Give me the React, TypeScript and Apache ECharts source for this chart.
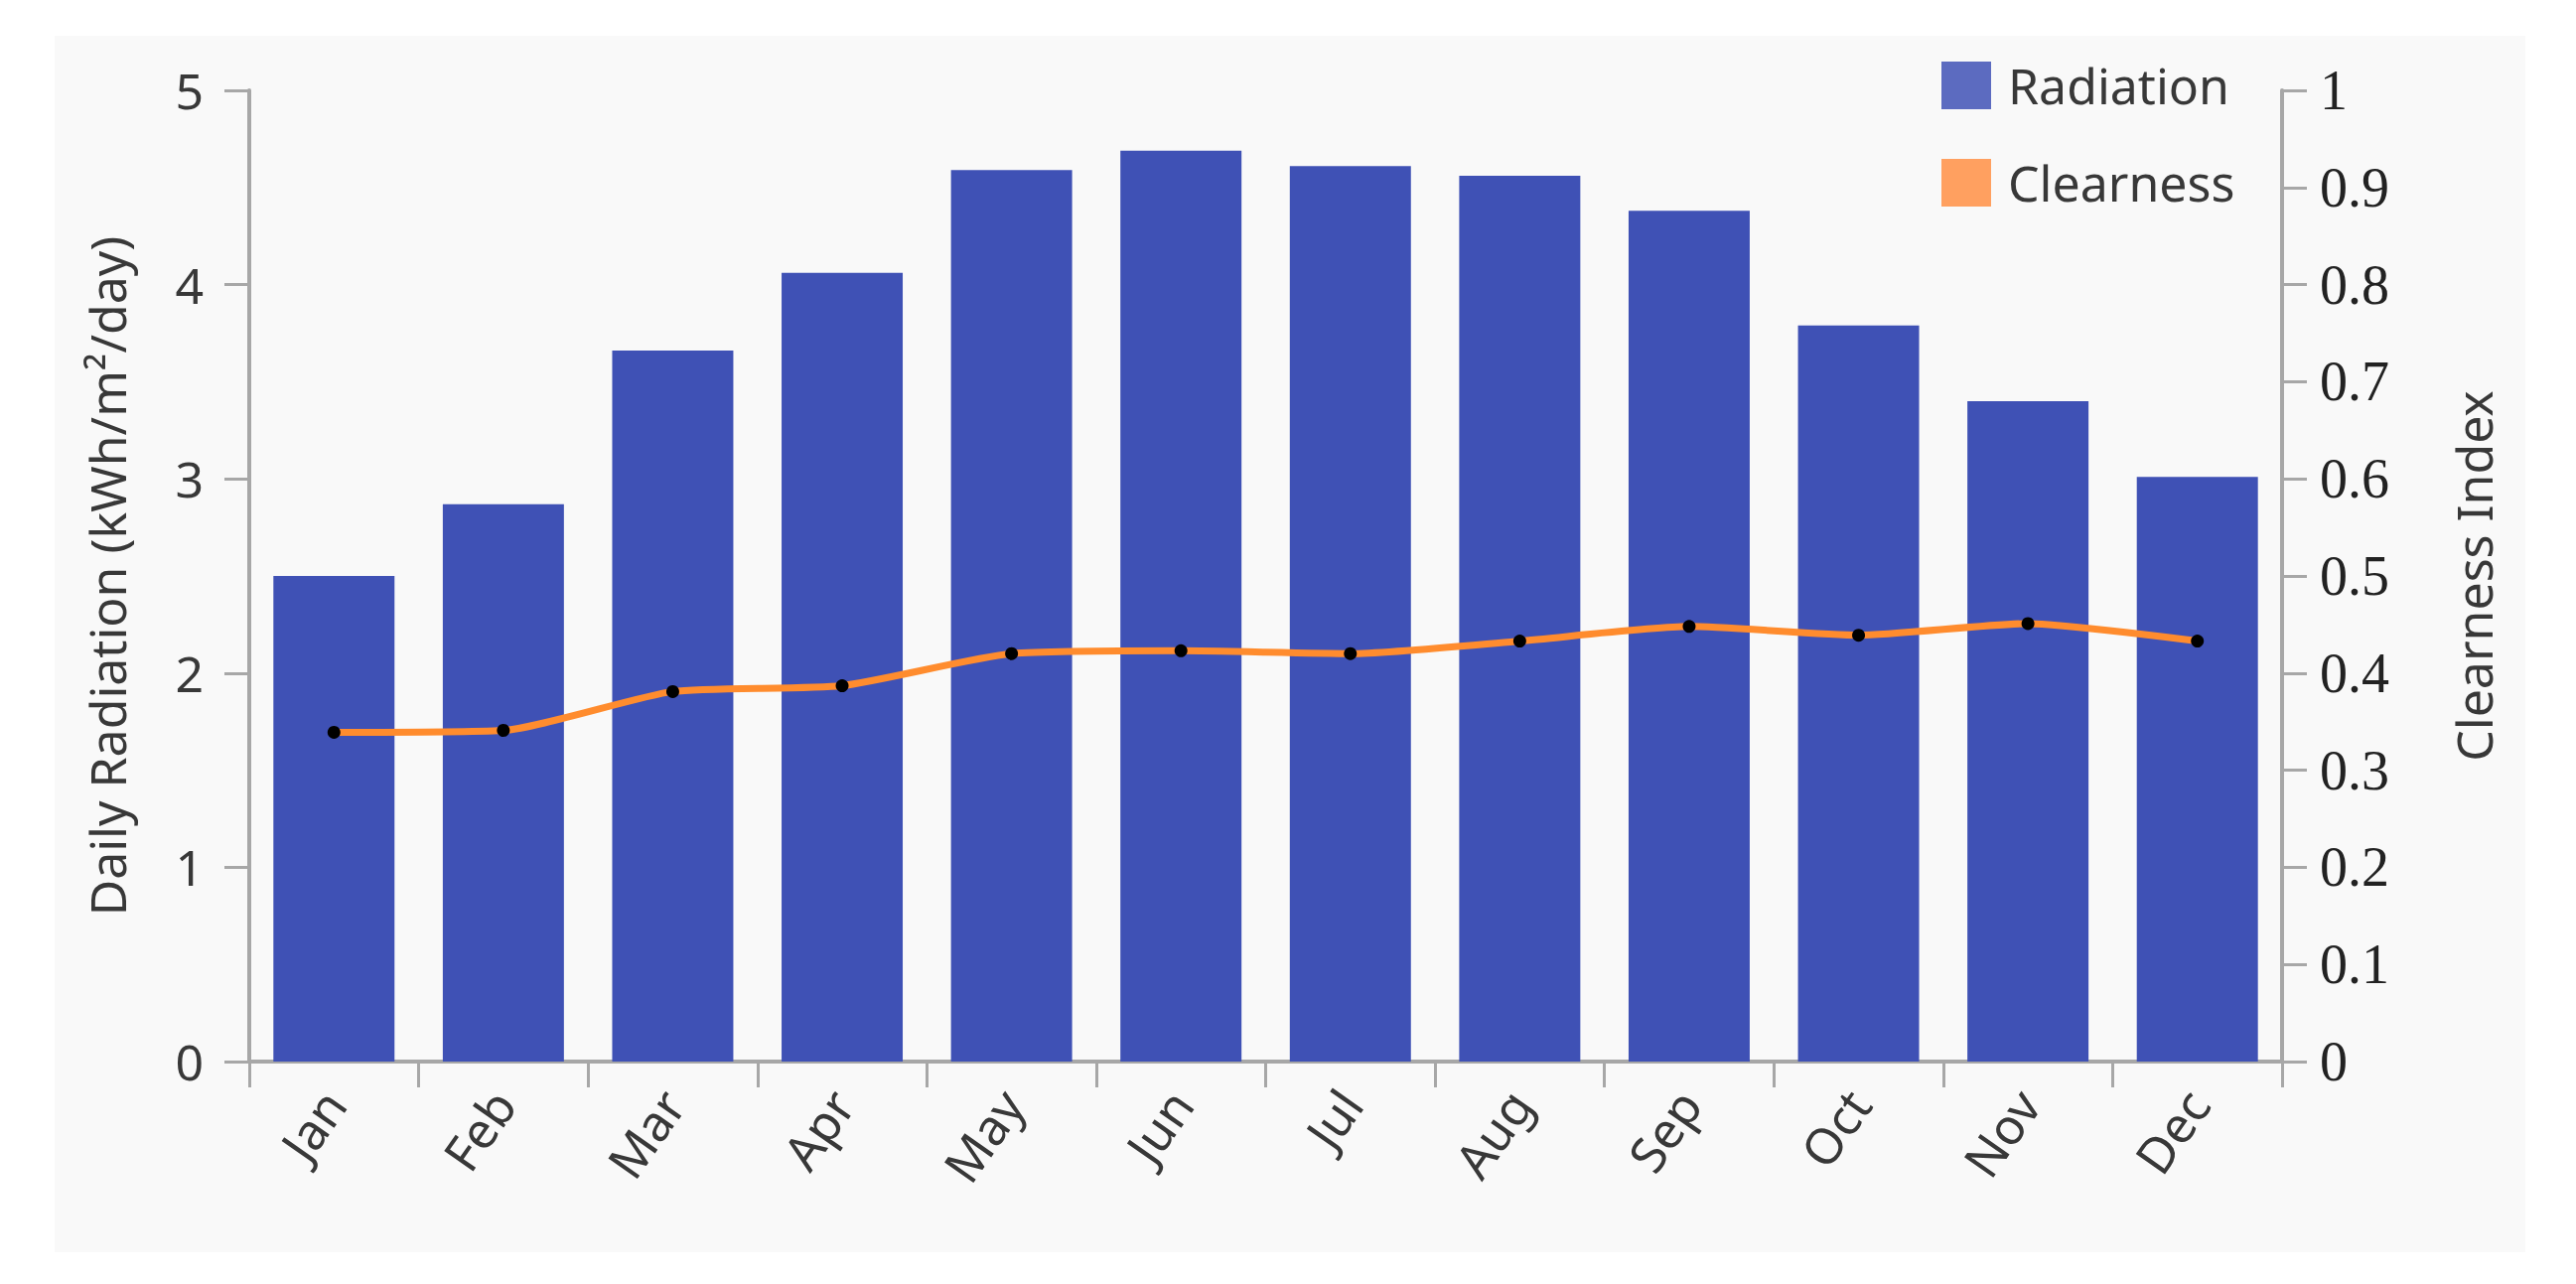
import React, { useEffect, useRef } from "react";
import * as echarts from "echarts";

const categories = ["Jan", "Feb", "Mar", "Apr", "May", "Jun", "Jul", "Aug", "Sep", "Oct", "Nov", "Dec"];
const radiation = [2.5, 2.87, 3.66, 4.06, 4.59, 4.69, 4.61, 4.56, 4.38, 3.79, 3.4, 3.01];
const clearness = [0.339, 0.341, 0.381, 0.387, 0.42, 0.423, 0.42, 0.433, 0.448, 0.439, 0.451, 0.433];
const seriesNames = ["Radiation", "Clearness"];
const axisNames = ["Daily Radiation (kWh/m\u00b2/day)", "Clearness Index"];

const AXIS_GRAY = "#a7a7a7";
const TEXT = "#383838";
const SANS = "'Noto Sans', 'Open Sans', sans-serif";
const NARROW = "'Liberation Sans Narrow', 'Noto Sans', sans-serif";
const SERIF = "'Liberation Serif', 'DejaVu Serif', serif";

export default function App() {
  const ref = useRef<HTMLDivElement>(null);
  useEffect(() => {
    if (!ref.current) return;
    const chart = echarts.init(ref.current, undefined, { renderer: "svg" });
    chart.setOption({
      animation: false,
      backgroundColor: "#ffffff",
      graphic: [
        {
          type: "rect",
          z: -10,
          shape: { x: 55, y: 36, width: 2488, height: 1225 },
          style: { fill: "#f9f9f9" },
          silent: true,
        },
      ],
      grid: { left: 251, right: 296, top: 91, bottom: 224, containLabel: false },
      legend: {
        orient: "vertical",
        left: 1950,
        top: 56,
        itemWidth: 50,
        itemHeight: 48,
        itemGap: 48,
        selectedMode: false,
        textStyle: { fontFamily: SANS, fontSize: 50, color: TEXT, padding: [0, 0, 0, 12] },
        data: [
          { name: seriesNames[0], icon: "rect", itemStyle: { color: "#5c6bc0" } },
          { name: seriesNames[1], icon: "rect", itemStyle: { color: "#ffa060" } },
        ],
      },
      xAxis: {
        type: "category",
        data: categories,
        boundaryGap: true,
        axisLine: { show: true, lineStyle: { color: AXIS_GRAY, width: 4 } },
        axisTick: { show: true, interval: 0, length: 26, lineStyle: { color: AXIS_GRAY, width: 3 } },
        axisLabel: {
          interval: 0,
          rotate: 55,
          margin: 34,
          fontFamily: SANS,
          fontSize: 50,
          color: TEXT,
        },
        splitLine: { show: false },
      },
      yAxis: [
        {
          type: "value",
          min: 0,
          max: 5,
          interval: 1,
          position: "left",
          name: axisNames[0],
          nameLocation: "middle",
          nameRotate: 90,
          nameGap: 118,
          nameTextStyle: { fontFamily: NARROW, fontSize: 50, color: TEXT },
          axisLine: { show: true, lineStyle: { color: AXIS_GRAY, width: 4 } },
          axisTick: { show: true, length: 25, lineStyle: { color: AXIS_GRAY, width: 3 } },
          axisLabel: { margin: 46, fontFamily: SANS, fontSize: 50, color: TEXT },
          splitLine: { show: false },
        },
        {
          type: "value",
          min: 0,
          max: 1,
          interval: 0.1,
          position: "right",
          name: axisNames[1],
          nameLocation: "middle",
          nameRotate: 90,
          nameGap: 168,
          nameTextStyle: { fontFamily: NARROW, fontSize: 50, color: TEXT },
          axisLine: { show: true, lineStyle: { color: AXIS_GRAY, width: 4 } },
          axisTick: { show: true, length: 25, lineStyle: { color: AXIS_GRAY, width: 3 } },
          axisLabel: { margin: 38, fontFamily: SERIF, fontSize: 56, color: "#222222" },
          splitLine: { show: false },
        },
      ],
      series: [
        {
          name: seriesNames[0],
          type: "bar",
          data: radiation,
          yAxisIndex: 0,
          barCategoryGap: "28.5%",
          itemStyle: { color: "#3f51b5" },
          z: 2,
        },
        {
          name: seriesNames[1],
          type: "line",
          data: clearness,
          yAxisIndex: 1,
          smooth: 0.2,
          symbol: "circle",
          symbolSize: 13,
          showSymbol: true,
          itemStyle: { color: "#000000" },
          lineStyle: { color: "#ff8c2e", width: 7 },
          z: 3,
        },
      ],
    });
    return () => chart.dispose();
  }, []);
  return (
    <div
      ref={ref}
      style={{ position: "absolute", left: 0, top: 0, width: 2594, height: 1293 }}
    />
  );
}
